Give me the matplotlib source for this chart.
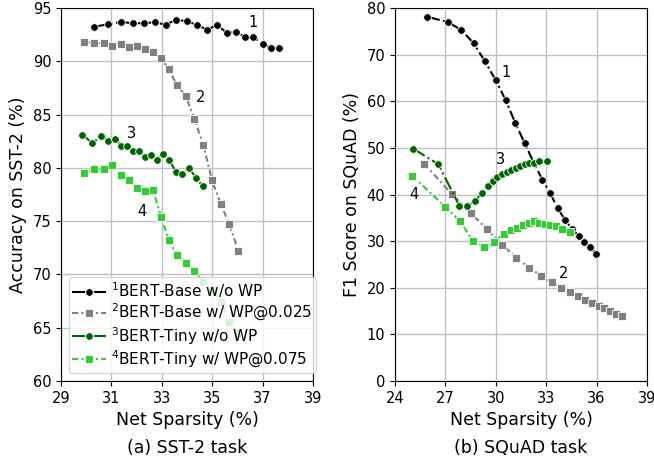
import numpy as np
import matplotlib
matplotlib.use('Agg')
import matplotlib.pyplot as plt

# SST-2 (left)
sst_base_x = [30.32, 30.88, 31.38, 31.85, 32.30, 32.73, 33.15, 33.57, 33.98, 34.39,
              34.79, 35.19, 35.58, 35.94, 36.31, 36.63, 37.00, 37.33, 37.66]
sst_base_y = [93.25, 93.47, 93.69, 93.57, 93.57, 93.66, 93.43, 93.90, 93.75, 93.43,
              92.96, 93.40, 92.68, 92.75, 92.28, 92.28, 91.59, 91.25, 91.25]
sst_wp_x = [29.92, 30.32, 30.69, 31.04, 31.37, 31.70, 32.02, 32.33, 32.65, 32.97,
            33.27, 33.60, 33.95, 34.29, 34.65, 34.99, 35.34, 35.68, 36.04]
sst_base_wp_y = [91.81, 91.69, 91.69, 91.46, 91.59, 91.34, 91.46, 91.18, 90.90, 90.28,
                 89.28, 87.78, 86.75, 84.59, 82.15, 78.84, 76.61, 74.71, 72.18]
sst_tiny_x = [29.85, 30.24, 30.59, 30.88, 31.16, 31.39, 31.63, 31.87, 32.11, 32.35,
              32.57, 32.81, 33.05, 33.30, 33.56, 33.81, 34.08, 34.35, 34.62]
sst_tiny_y = [83.11, 82.31, 82.99, 82.55, 82.68, 82.08, 82.08, 81.61, 81.61, 81.00,
              81.18, 80.77, 81.28, 80.71, 79.64, 79.43, 79.99, 79.08, 78.30]
sst_tiny_wp_y = [79.55, 79.87, 79.87, 80.24, 79.31, 78.84, 78.14, 77.83, 77.93, 75.42,
                 73.21, 71.83, 71.05, 70.36, 69.32, 68.61, 67.45, 65.50, 64.52]

# SQuAD (right)
sq_base_x = [25.89, 27.14, 27.95, 28.68, 29.34, 29.99, 30.59, 31.16, 31.72, 32.26,
             32.77, 33.24, 33.68, 34.12, 34.52, 34.93, 35.27, 35.63, 35.96]
sq_base_y = [78.13, 77.00, 75.28, 72.43, 68.63, 64.56, 60.21, 55.34, 50.98, 46.82,
             43.18, 40.26, 37.04, 34.60, 32.67, 31.16, 29.75, 28.74, 27.30]
sq_base_wp_x = [25.73, 27.38, 28.51, 29.49, 30.39, 31.22, 32.00, 32.69, 33.33, 33.88,
                34.40, 34.89, 35.33, 35.74, 36.13, 36.44, 36.78, 37.14, 37.51]
sq_base_wp_y = [46.61, 40.11, 36.03, 32.54, 29.18, 26.45, 24.31, 22.58, 21.17, 19.95,
                19.03, 18.23, 17.31, 16.67, 16.02, 15.66, 15.08, 14.44, 14.00]
sq_tiny_x = [25.09, 26.58, 27.83, 28.29, 28.78, 29.18, 29.52, 29.83, 30.10, 30.39,
             30.67, 30.93, 31.20, 31.46, 31.72, 31.99, 32.27, 32.59, 33.02]
sq_tiny_y = [49.82, 46.47, 37.60, 37.43, 38.67, 40.39, 41.78, 43.00, 43.75, 44.29,
             44.76, 45.19, 45.68, 46.11, 46.48, 46.71, 46.82, 47.08, 47.14]
sq_tiny_wp_x = [25.03, 26.98, 27.89, 28.63, 29.32, 29.91, 30.47, 30.89, 31.24, 31.59,
                31.96, 32.30, 32.58, 32.91, 33.24, 33.57, 33.94, 34.39]
sq_tiny_wp_y = [44.03, 37.38, 34.25, 30.03, 28.80, 29.81, 31.63, 32.28, 32.81, 33.46,
                33.89, 34.21, 33.93, 33.63, 33.41, 33.14, 32.64, 31.96]

labels = ['$^1$BERT-Base w/o WP', '$^2$BERT-Base w/ WP@0.025',
          '$^3$BERT-Tiny w/o WP', '$^4$BERT-Tiny w/ WP@0.075']
colors = ['black', 'gray', 'darkgreen', 'limegreen']
dashdot2 = (0, (3, 1.5, 1, 1.5))
styles = [('o', '-.'), ('s', dashdot2), ('o', '-.'), ('s', dashdot2)]

fig = plt.figure(figsize=(6.54, 4.62), dpi=100)
ax1 = fig.add_axes([0.0933, 0.1753, 0.3853, 0.8074])
ax2 = fig.add_axes([0.604, 0.1753, 0.3853, 0.8074])

def draw(ax, xs, ys):
    for x, y, c, (m, ls), lab in zip(xs, ys, colors, styles, labels):
        ax.plot(x, y, linestyle=ls, marker=m, color=c, ms=5.5, mec='white',
                mew=0.6, lw=1.5, label=lab)

draw(ax1, [sst_base_x, sst_wp_x, sst_tiny_x, sst_wp_x],
     [sst_base_y, sst_base_wp_y, sst_tiny_y, sst_tiny_wp_y])
draw(ax2, [sq_base_x, sq_base_wp_x, sq_tiny_x, sq_tiny_wp_x],
     [sq_base_y, sq_base_wp_y, sq_tiny_y, sq_tiny_wp_y])

ax1.set_xlim(29, 39)
ax1.set_ylim(60, 95)
ax1.set_xticks(np.arange(29, 40, 2))
ax1.set_yticks(np.arange(60, 96, 5))
ax2.set_xlim(24, 39)
ax2.set_ylim(0, 80)
ax2.set_xticks(np.arange(24, 40, 3))
ax2.set_yticks(np.arange(0, 81, 10))

for ax in (ax1, ax2):
    ax.grid(True, color='#c0c0c0', lw=1)
    ax.set_axisbelow(True)
    ax.tick_params(labelsize=10.5)
    ax.set_xlabel('Net Sparsity (%)', fontsize=12.5)

ax1.set_ylabel('Accuracy on SST-2 (%)', fontsize=12.5)
ax2.set_ylabel('F1 Score on SQuAD (%)', fontsize=12.5)
ax1.text(0.5, -0.155, '(a) SST-2 task', transform=ax1.transAxes, ha='center',
         va='top', fontsize=12.5)
ax2.text(0.5, -0.155, '(b) SQuAD task', transform=ax2.transAxes, ha='center',
         va='top', fontsize=12.5)

# series numbers
for ax, pos in ((ax1, [(36.63, 93.6), (34.52, 86.6), (31.78, 83.2), (32.2, 75.9)]),
                (ax2, [(30.61, 66.1), (34.06, 23.1), (30.29, 47.5), (25.15, 40.1)])):
    for i, (x, y) in enumerate(pos):
        ax.text(x, y, str(i + 1), ha='center', va='center', fontsize=10.5)

ax1.legend(loc='lower left', fontsize=11, labelspacing=0.12, borderpad=0.25,
           handletextpad=0.3, handlelength=2.2)

fig.savefig('out.png', dpi=100)
